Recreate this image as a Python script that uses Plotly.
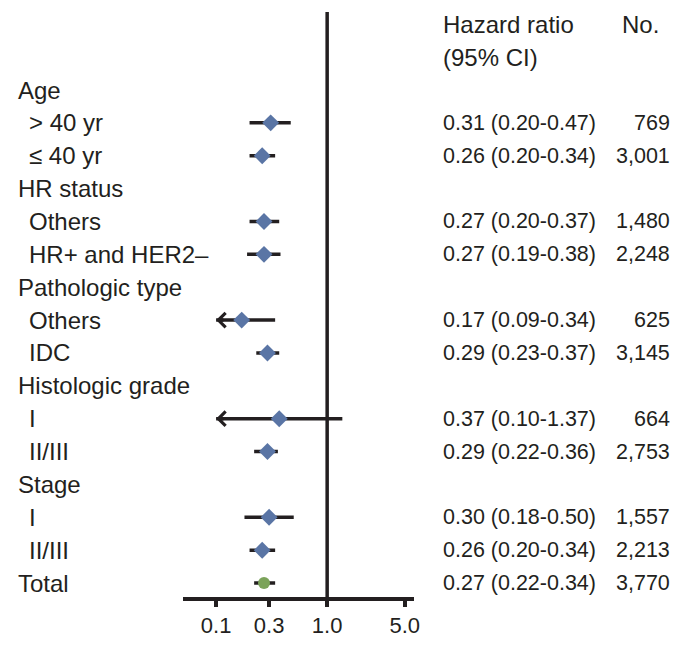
import math
import plotly.graph_objects as go

# ---------------- data ----------------
row_labels = ["Age", "> 40 yr", "≤ 40 yr", "HR status", "Others", "HR+ and HER2–",
              "Pathologic type", "Others", "IDC", "Histologic grade", "I", "II/III",
              "Stage", "I", "II/III", "Total"]
row_level = [0, 1, 1, 0, 1, 1, 0, 1, 1, 0, 1, 1, 0, 1, 1, 0]
hr_est = [None, 0.31, 0.26, None, 0.27, 0.27, None, 0.17, 0.29, None, 0.37, 0.29,
          None, 0.30, 0.26, 0.27]
ci_low = [None, 0.20, 0.20, None, 0.20, 0.19, None, 0.09, 0.23, None, 0.10, 0.22,
          None, 0.18, 0.20, 0.22]
ci_high = [None, 0.47, 0.34, None, 0.37, 0.38, None, 0.34, 0.37, None, 1.37, 0.36,
           None, 0.50, 0.34, 0.34]
n_patients = [None, 769, 3001, None, 1480, 2248, None, 625, 3145, None, 664, 2753,
              None, 1557, 2213, 3770]
total_label = "Total"

tick_vals = [0.1, 0.3, 1.0, 5.0]
tick_text = ["0.1", "0.3", "1.0", "5.0"]
ref_hr = 1.0
display_min = 0.1   # CIs reaching this value are truncated with an arrow

# ---------------- style ----------------
W, H = 696, 645
FONT = "Liberation Sans, Arial, Helvetica, sans-serif"
INK = "#231f20"
DIAMOND = "#5a75a5"
GREEN = "#7ba35a"

fig = go.Figure()

n_rows = len(row_labels)
rows_y = list(range(n_rows))

row_px = 32.87
top_px = 90
plot_h = 597
y_top = -top_px / row_px
y_bot = (plot_h - top_px) / row_px
line_top_y = (12 - top_px) / row_px

# reference line at HR = 1
fig.add_trace(go.Scatter(x=[ref_hr, ref_hr], y=[line_top_y, y_bot], mode="lines",
                         line=dict(color=INK, width=3.5), hoverinfo="skip",
                         showlegend=False, cliponaxis=False))

for i in rows_y:
    if hr_est[i] is None:
        continue
    lo = max(ci_low[i], display_min)
    fig.add_trace(go.Scatter(x=[lo, ci_high[i]], y=[i, i], mode="lines",
                             line=dict(color=INK, width=3.5), hoverinfo="skip",
                             showlegend=False, cliponaxis=False))
    if ci_low[i] <= display_min:
        fig.add_annotation(x=math.log10(display_min), y=i, xref="x", yref="y",
                           ax=math.log10(display_min) + 0.08, ay=i, axref="x", ayref="y",
                           showarrow=True, arrowhead=4, arrowsize=0.8, arrowwidth=3.5,
                           arrowcolor=INK, text="", standoff=0)

est_x = [hr_est[i] for i in rows_y if hr_est[i] is not None and row_labels[i] != total_label]
est_y = [i for i in rows_y if hr_est[i] is not None and row_labels[i] != total_label]
fig.add_trace(go.Scatter(x=est_x, y=est_y, mode="markers",
                         marker=dict(symbol="diamond", size=13, color=DIAMOND),
                         showlegend=False, hoverinfo="skip"))
tot_x = [hr_est[i] for i in rows_y if row_labels[i] == total_label]
tot_y = [i for i in rows_y if row_labels[i] == total_label]
fig.add_trace(go.Scatter(x=tot_x, y=tot_y, mode="markers",
                         marker=dict(symbol="circle", size=12, color=GREEN),
                         showlegend=False, hoverinfo="skip"))

LABEL_SIZE = 24
NUM_SIZE = 21.5

def txt(x, y, s, size, anchor="left"):
    fig.add_annotation(x=x / W, y=y, xref="paper", yref="y", text=s, showarrow=False,
                       xanchor=anchor, yanchor="middle", borderpad=0,
                       font=dict(family=FONT, size=size, color=INK))

for i in rows_y:
    txt(17 if row_level[i] == 0 else 28, i, row_labels[i], LABEL_SIZE)
    if hr_est[i] is not None:
        txt(446, i, f"{hr_est[i]:.2f} ({ci_low[i]:.2f}-{ci_high[i]:.2f})", NUM_SIZE)
        txt(677, i, f"{n_patients[i]:,}", NUM_SIZE, anchor="right")

txt(446, -2, "Hazard ratio", LABEL_SIZE)
txt(446, -1, "(95% CI)", LABEL_SIZE)
txt(626, -2, "No.", LABEL_SIZE)

px_per_dec = 112.0
x1_px = 330.0
x_left, x_right = 185, 418

fig.update_layout(
    width=W, height=H,
    margin=dict(l=0, r=0, t=0, b=H - plot_h),
    paper_bgcolor="white", plot_bgcolor="white",
    xaxis=dict(type="log", domain=[x_left / W, x_right / W],
               range=[-(x1_px - x_left) / px_per_dec, (x_right - x1_px) / px_per_dec],
               tickvals=tick_vals, ticktext=tick_text, showgrid=False, zeroline=False,
               showline=True, linecolor=INK, linewidth=4,
               ticks="outside", ticklen=6, tickwidth=3.5, tickcolor=INK,
               tickfont=dict(family=FONT, size=22, color=INK)),
    yaxis=dict(range=[y_bot, y_top], visible=False, showgrid=False, zeroline=False),
)

fig.write_html("out.html", config={"displayModeBar": False},
               post_script="document.body.style.margin='0';")
